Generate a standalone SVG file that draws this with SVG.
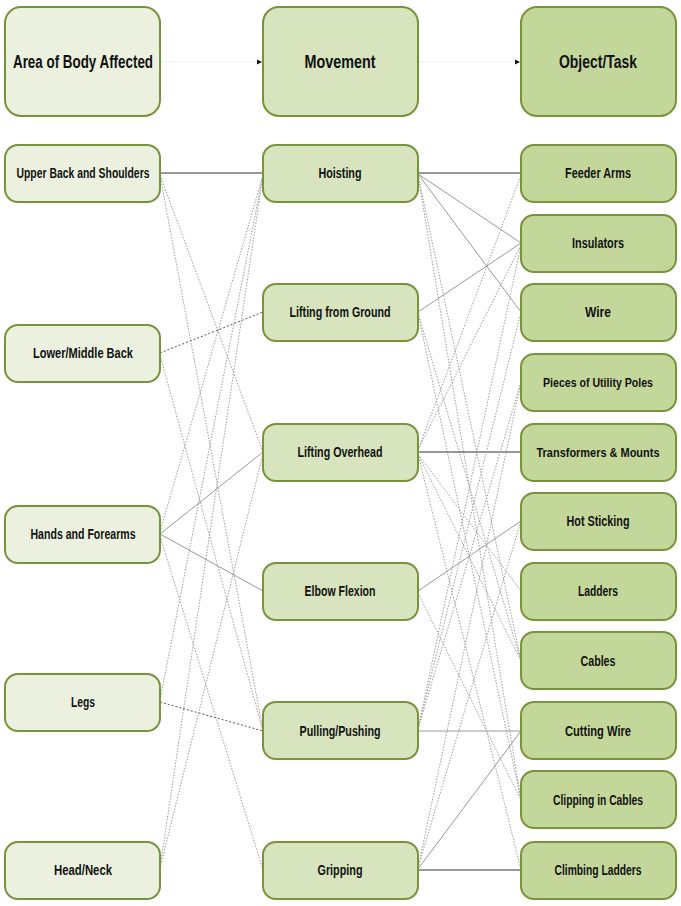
<svg xmlns="http://www.w3.org/2000/svg" width="681" height="906" viewBox="0 0 681 906">
<style>
.n rect{stroke:#77933c;stroke-width:2}
.c1 rect{fill:#ebf1de}
.c2 rect{fill:#d7e4bd}
.c3 rect{fill:#c4d79b}
text{font-family:"Liberation Sans Narrow","Liberation Sans",Arial,sans-serif;font-weight:bold;fill:#111;text-anchor:middle;dominant-baseline:central}
.t{font-size:14px}
.s{font-size:13px}
.h{font-size:18px}
.solid{stroke:#333;stroke-width:1;fill:none}
.thin{stroke:#8c8c8c;stroke-width:0.9;fill:none}
.dash{stroke:#555;stroke-width:1;stroke-dasharray:2 2;fill:none}
.dot{stroke:#9c9c9c;stroke-width:1;stroke-dasharray:1.5 1.5;fill:none}
.faint{stroke:#eeeeee;stroke-width:1;fill:none}
</style>
<defs>
<marker id="ah" markerWidth="6" markerHeight="6" refX="5" refY="3" orient="auto" markerUnits="userSpaceOnUse">
<path d="M0,0.5 L5,3 L0,5.5 Z" fill="#111"/>
</marker>
</defs>
<rect width="681" height="906" fill="#fff"/>
<g id="connectors">
<line class="faint" x1="161" y1="62" x2="262" y2="62" marker-end="url(#ah)"/>
<line class="faint" x1="419" y1="62" x2="520" y2="62" marker-end="url(#ah)"/>
<line class="solid" x1="160" y1="173" x2="263" y2="173"/>
<line class="dot" x1="160" y1="175" x2="263" y2="452"/>
<line class="dot" x1="160" y1="175" x2="263" y2="731"/>
<line class="dash" x1="160" y1="353" x2="263" y2="312"/>
<line class="dot" x1="160" y1="355" x2="263" y2="731"/>
<line class="dot" x1="160" y1="532" x2="263" y2="175"/>
<line class="thin" x1="160" y1="534" x2="263" y2="452"/>
<line class="thin" x1="160" y1="534" x2="263" y2="591"/>
<line class="dot" x1="160" y1="536" x2="263" y2="870"/>
<line class="dot" x1="160" y1="700" x2="263" y2="175"/>
<line class="dash" x1="160" y1="702" x2="263" y2="731"/>
<line class="dot" x1="160" y1="868" x2="263" y2="175"/>
<line class="dot" x1="160" y1="868" x2="263" y2="454"/>
<line class="solid" x1="418" y1="173" x2="521" y2="173"/>
<line class="thin" x1="418" y1="174" x2="521" y2="243"/>
<line class="thin" x1="418" y1="174" x2="521" y2="312"/>
<line class="dot" x1="418" y1="175" x2="521" y2="661"/>
<line class="dot" x1="418" y1="175" x2="521" y2="800"/>
<line class="thin" x1="418" y1="312" x2="521" y2="243"/>
<line class="dot" x1="418" y1="313" x2="521" y2="661"/>
<line class="dot" x1="418" y1="313" x2="521" y2="800"/>
<line class="dot" x1="418" y1="450" x2="521" y2="175"/>
<line class="dot" x1="418" y1="450" x2="521" y2="245"/>
<line class="solid" x1="418" y1="452" x2="521" y2="452"/>
<line class="dot" x1="418" y1="454" x2="521" y2="591"/>
<line class="dot" x1="418" y1="454" x2="521" y2="661"/>
<line class="dot" x1="418" y1="454" x2="521" y2="870"/>
<line class="thin" x1="418" y1="591" x2="521" y2="521"/>
<line class="dot" x1="418" y1="593" x2="521" y2="800"/>
<line class="dot" x1="418" y1="729" x2="521" y2="245"/>
<line class="dot" x1="418" y1="729" x2="521" y2="312"/>
<line class="dot" x1="418" y1="729" x2="521" y2="382"/>
<line class="thin" x1="418" y1="731" x2="521" y2="731"/>
<line class="solid" x1="418" y1="870" x2="521" y2="870"/>
<line class="thin" x1="418" y1="869" x2="521" y2="731"/>
<line class="dot" x1="418" y1="868" x2="521" y2="521"/>
<line class="dot" x1="418" y1="868" x2="521" y2="382"/>
</g>
<g id="h-area" class="n c1"><rect x="5" y="7" width="155" height="109" rx="16"/><text class="h" x="83" y="62" textLength="140" lengthAdjust="spacingAndGlyphs">Area of Body Affected</text></g>
<g id="h-movement" class="n c2"><rect x="263" y="7" width="155" height="109" rx="16"/><text class="h" x="340" y="62" textLength="71" lengthAdjust="spacingAndGlyphs">Movement</text></g>
<g id="h-object" class="n c3"><rect x="521" y="7" width="155" height="109" rx="16"/><text class="h" x="598" y="62" textLength="78" lengthAdjust="spacingAndGlyphs">Object/Task</text></g>

<g id="upper-back" class="n c1"><rect x="5" y="145" width="155" height="57" rx="13"/><text class="t" x="83" y="173" textLength="133" lengthAdjust="spacingAndGlyphs">Upper Back and Shoulders</text></g>
<g id="lower-back" class="n c1"><rect x="5" y="325" width="155" height="57" rx="13"/><text class="t" x="83" y="353" textLength="100" lengthAdjust="spacingAndGlyphs">Lower/Middle Back</text></g>
<g id="hands" class="n c1"><rect x="5" y="506" width="155" height="57" rx="13"/><text class="t" x="83" y="534" textLength="105" lengthAdjust="spacingAndGlyphs">Hands and Forearms</text></g>
<g id="legs" class="n c1"><rect x="5" y="674" width="155" height="57" rx="13"/><text class="t" x="83" y="702" textLength="24" lengthAdjust="spacingAndGlyphs">Legs</text></g>
<g id="head" class="n c1"><rect x="5" y="842" width="155" height="57" rx="13"/><text class="t" x="83" y="870" textLength="58" lengthAdjust="spacingAndGlyphs">Head/Neck</text></g>

<g id="hoisting" class="n c2"><rect x="263" y="145" width="155" height="57" rx="13"/><text class="t" x="340" y="173" textLength="43" lengthAdjust="spacingAndGlyphs">Hoisting</text></g>
<g id="lifting-ground" class="n c2"><rect x="263" y="284" width="155" height="57" rx="13"/><text class="t" x="340" y="312" textLength="101" lengthAdjust="spacingAndGlyphs">Lifting from Ground</text></g>
<g id="lifting-overhead" class="n c2"><rect x="263" y="424" width="155" height="57" rx="13"/><text class="t" x="340" y="452" textLength="85" lengthAdjust="spacingAndGlyphs">Lifting Overhead</text></g>
<g id="elbow" class="n c2"><rect x="263" y="563" width="155" height="57" rx="13"/><text class="t" x="340" y="591" textLength="71" lengthAdjust="spacingAndGlyphs">Elbow Flexion</text></g>
<g id="pulling" class="n c2"><rect x="263" y="702" width="155" height="57" rx="13"/><text class="t" x="340" y="731" textLength="81" lengthAdjust="spacingAndGlyphs">Pulling/Pushing</text></g>
<g id="gripping" class="n c2"><rect x="263" y="842" width="155" height="57" rx="13"/><text class="t" x="340" y="870" textLength="45" lengthAdjust="spacingAndGlyphs">Gripping</text></g>

<g id="feeder" class="n c3"><rect x="521" y="145" width="155" height="57" rx="13"/><text class="t" x="598" y="173" textLength="66" lengthAdjust="spacingAndGlyphs">Feeder Arms</text></g>
<g id="insulators" class="n c3"><rect x="521" y="215" width="155" height="57" rx="13"/><text class="t" x="598" y="243" textLength="52" lengthAdjust="spacingAndGlyphs">Insulators</text></g>
<g id="wire" class="n c3"><rect x="521" y="284" width="155" height="57" rx="13"/><text class="t" x="598" y="312" textLength="26" lengthAdjust="spacingAndGlyphs">Wire</text></g>
<g id="poles" class="n c3"><rect x="521" y="354" width="155" height="57" rx="13"/><text class="s" x="598" y="382" textLength="110" lengthAdjust="spacingAndGlyphs">Pieces of Utility Poles</text></g>
<g id="transformers" class="n c3"><rect x="521" y="424" width="155" height="57" rx="13"/><text class="s" x="598" y="452" textLength="123" lengthAdjust="spacingAndGlyphs">Transformers &amp; Mounts</text></g>
<g id="hot-sticking" class="n c3"><rect x="521" y="493" width="155" height="57" rx="13"/><text class="t" x="598" y="521" textLength="63" lengthAdjust="spacingAndGlyphs">Hot Sticking</text></g>
<g id="ladders" class="n c3"><rect x="521" y="563" width="155" height="57" rx="13"/><text class="t" x="598" y="591" textLength="40" lengthAdjust="spacingAndGlyphs">Ladders</text></g>
<g id="cables" class="n c3"><rect x="521" y="632" width="155" height="57" rx="13"/><text class="t" x="598" y="661" textLength="35" lengthAdjust="spacingAndGlyphs">Cables</text></g>
<g id="cutting" class="n c3"><rect x="521" y="702" width="155" height="57" rx="13"/><text class="t" x="598" y="731" textLength="66" lengthAdjust="spacingAndGlyphs">Cutting Wire</text></g>
<g id="clipping" class="n c3"><rect x="521" y="771" width="155" height="57" rx="13"/><text class="t" x="598" y="800" textLength="90" lengthAdjust="spacingAndGlyphs">Clipping in Cables</text></g>
<g id="climbing" class="n c3"><rect x="521" y="842" width="155" height="57" rx="13"/><text class="t" x="598" y="870" textLength="87" lengthAdjust="spacingAndGlyphs">Climbing Ladders</text></g>
</svg>
